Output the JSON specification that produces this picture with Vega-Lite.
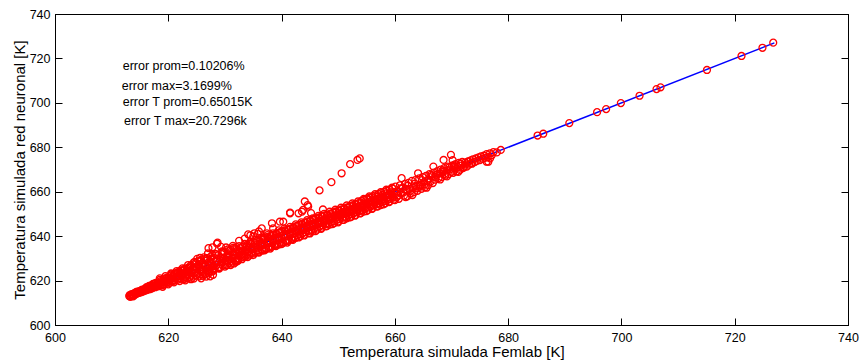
{
  "$schema": "https://vega.github.io/schema/vega-lite/v6.json",
  "width": 793,
  "height": 311,
  "autosize": {"type": "none"},
  "padding": {"left": 55, "top": 14, "right": 14, "bottom": 39},
  "background": "white",
  "config": {
    "view": {"stroke": "black", "strokeWidth": 1},
    "font": "Liberation Sans",
    "axis": {
      "grid": false,
      "domainColor": "black",
      "tickColor": "black",
      "labelColor": "black",
      "titleColor": "black",
      "labelFont": "Liberation Sans",
      "titleFont": "Liberation Sans",
      "labelFontSize": 12.5,
      "titleFontSize": 15,
      "titleFontWeight": "normal",
      "tickSize": -7,
      "domainWidth": 1,
      "tickWidth": 1,
      "labelFlush": false,
      "labelOverlap": false
    }
  },
  "datasets": {
    "diag": [{"x": 613, "y": 613}, {"x": 727, "y": 727}],
    "notes": [
      {"x": 611.95, "y": 716.7, "label": "error prom=0.10206%"},
      {"x": 611.78, "y": 707.6, "label": "error max=3.1699%"},
      {"x": 611.95, "y": 700.2, "label": "error T prom=0.65015K"},
      {"x": 612.18, "y": 691.8, "label": "error T max=20.7296k"}
    ],
    "pts": [
      {"x":613.1,"y":613.0},{"x":613.2,"y":613.5},{"x":613.3,"y":612.7},{"x":613.5,"y":613.9},{"x":613.6,"y":613.2},{"x":613.8,"y":612.9},{"x":614.0,"y":614.3},{"x":614.1,"y":613.6},{"x":614.3,"y":614.8},{"x":614.4,"y":614.0},{"x":614.6,"y":614.4},{"x":614.8,"y":615.1},{"x":614.9,"y":614.5},{"x":615.1,"y":615.4},{"x":615.3,"y":614.8},{"x":615.4,"y":615.9},{"x":615.6,"y":615.2},{"x":615.8,"y":616.1},{"x":615.9,"y":615.5},
      {"x":616.1,"y":616.9},{"x":616.2,"y":615.7},{"x":616.4,"y":616.3},{"x":616.6,"y":617.6},{"x":616.7,"y":616.1},{"x":616.9,"y":617.0},{"x":617.1,"y":618.0},{"x":617.2,"y":616.6},{"x":617.4,"y":617.5},{"x":617.6,"y":618.6},{"x":617.7,"y":617.0},{"x":617.9,"y":618.2},{"x":618.1,"y":619.1},{"x":618.2,"y":617.4},{"x":618.4,"y":618.6},{"x":618.6,"y":619.7},{"x":618.7,"y":618.0},{"x":618.9,"y":619.3},{"x":619.1,"y":620.2},{"x":619.2,"y":618.4},{"x":619.4,"y":619.6},{"x":619.6,"y":620.8},{"x":619.7,"y":619.0},{"x":619.9,"y":620.2},
      {"x":620.1,"y":621.4},{"x":620.2,"y":619.0},{"x":620.4,"y":620.7},{"x":620.5,"y":622.3},{"x":620.7,"y":619.6},{"x":620.8,"y":621.5},{"x":621.0,"y":622.8},{"x":621.1,"y":620.0},{"x":621.3,"y":621.4},{"x":621.5,"y":623.4},{"x":621.6,"y":620.3},{"x":621.8,"y":622.2},{"x":622.0,"y":623.9},{"x":622.1,"y":620.8},{"x":622.3,"y":622.6},{"x":622.4,"y":624.5},{"x":622.6,"y":621.2},{"x":622.8,"y":623.3},{"x":622.9,"y":624.9},{"x":623.0,"y":621.7},
      {"x":623.2,"y":624.0},{"x":623.3,"y":621.0},{"x":623.5,"y":625.8},{"x":623.6,"y":622.7},{"x":623.8,"y":624.6},{"x":624.0,"y":626.9},{"x":624.1,"y":622.3},{"x":624.3,"y":625.2},{"x":624.4,"y":621.8},{"x":624.6,"y":627.3},{"x":624.8,"y":623.6},{"x":624.9,"y":625.9},{"x":625.1,"y":629.8},{"x":625.2,"y":623.0},{"x":625.4,"y":626.4},{"x":625.6,"y":628.6},{"x":625.7,"y":622.9},{"x":625.9,"y":625.0},{"x":626.0,"y":627.8},{"x":626.2,"y":623.5},{"x":626.3,"y":630.5},{"x":626.5,"y":626.2},{"x":626.7,"y":628.9},{"x":626.8,"y":624.4},{"x":627.0,"y":632.2},{"x":627.1,"y":627.4},{"x":627.3,"y":623.9},{"x":627.5,"y":629.8},{"x":627.6,"y":626.0},{"x":627.8,"y":631.5},{"x":627.9,"y":625.0},{"x":626.5,"y":622.8},{"x":626.1,"y":622.1},{"x":625.5,"y":621.9},{"x":627.2,"y":623.2},{"x":626.7,"y":621.8},{"x":627.4,"y":621.9},{"x":627.9,"y":622.6},{"x":625.8,"y":621.0},{"x":625.6,"y":630.2},{"x":624.7,"y":628.4},{"x":627.1,"y":634.6},{"x":627.8,"y":635.0},
      {"x":628.1,"y":630.2},{"x":628.2,"y":625.4},{"x":628.4,"y":628.9},{"x":628.6,"y":636.6},{"x":628.7,"y":637.1},{"x":628.8,"y":631.4},{"x":629.0,"y":626.1},{"x":629.1,"y":629.5},{"x":629.3,"y":635.2},{"x":629.4,"y":631.9},{"x":629.6,"y":626.8},{"x":629.8,"y":630.3},{"x":629.9,"y":632.8},{"x":630.1,"y":627.5},{"x":630.2,"y":634.9},{"x":630.4,"y":630.7},{"x":630.6,"y":633.3},{"x":630.7,"y":627.9},{"x":630.9,"y":631.5},{"x":631.0,"y":633.9},{"x":631.2,"y":628.5},{"x":631.4,"y":635.6},{"x":631.5,"y":631.9},{"x":631.7,"y":634.4},{"x":631.8,"y":628.9},{"x":629.5,"y":628.2},{"x":630.5,"y":629.0},{"x":631.3,"y":630.0},{"x":631.6,"y":627.7},{"x":632.3,"y":628.9},
      {"x":632.0,"y":634.2},{"x":632.2,"y":629.8},{"x":632.4,"y":632.9},{"x":632.5,"y":637.9},{"x":632.7,"y":634.6},{"x":632.9,"y":630.6},{"x":633.0,"y":633.5},{"x":633.2,"y":635.4},{"x":633.4,"y":631.2},{"x":633.5,"y":638.9},{"x":633.7,"y":634.1},{"x":633.9,"y":636.0},{"x":634.0,"y":631.8},{"x":634.2,"y":634.9},{"x":634.4,"y":636.7},{"x":634.5,"y":640.4},{"x":634.7,"y":632.4},{"x":634.9,"y":635.3},{"x":635.0,"y":637.4},{"x":635.2,"y":641.3},{"x":635.4,"y":632.9},{"x":635.5,"y":636.0},{"x":635.7,"y":638.0},{"x":635.9,"y":633.5},{"x":636.0,"y":642.1},{"x":636.2,"y":636.6},{"x":636.4,"y":638.7},{"x":636.5,"y":634.1},{"x":636.7,"y":637.2},{"x":636.9,"y":639.3},{"x":633.1,"y":630.4},{"x":635.8,"y":641.0},{"x":636.5,"y":643.5},{"x":634.1,"y":640.8},{"x":635.0,"y":639.8},
      {"x":637.1,"y":639.0},{"x":637.2,"y":634.5},{"x":637.4,"y":637.3},{"x":637.6,"y":639.6},{"x":637.7,"y":635.0},{"x":637.9,"y":638.0},{"x":638.1,"y":640.1},{"x":638.2,"y":635.4},{"x":638.4,"y":638.6},{"x":638.6,"y":640.5},{"x":638.7,"y":636.0},{"x":638.9,"y":639.2},{"x":639.1,"y":641.0},{"x":639.2,"y":636.4},{"x":639.4,"y":639.6},{"x":639.6,"y":641.5},{"x":639.7,"y":637.0},{"x":639.9,"y":640.0},{"x":640.1,"y":642.0},{"x":640.2,"y":637.3},{"x":640.4,"y":640.5},{"x":640.6,"y":642.5},{"x":640.7,"y":637.8},{"x":640.9,"y":641.0},{"x":641.1,"y":642.9},{"x":641.2,"y":638.3},{"x":641.4,"y":641.4},{"x":641.6,"y":643.4},{"x":641.7,"y":638.8},{"x":641.9,"y":641.9},{"x":638.3,"y":645.8},{"x":638.5,"y":643.5},{"x":640.3,"y":646.5},{"x":641.5,"y":650.3},{"x":637.4,"y":641.3},{"x":639.7,"y":646.5},
      {"x":642.1,"y":644.0},{"x":642.2,"y":639.6},{"x":642.4,"y":642.5},{"x":642.6,"y":644.5},{"x":642.7,"y":640.3},{"x":642.9,"y":643.0},{"x":643.1,"y":645.0},{"x":643.2,"y":640.8},{"x":643.4,"y":643.4},{"x":643.6,"y":645.5},{"x":643.7,"y":641.3},{"x":643.9,"y":643.9},{"x":644.1,"y":646.0},{"x":644.2,"y":641.8},{"x":644.4,"y":644.5},{"x":644.6,"y":646.5},{"x":644.7,"y":642.3},{"x":644.9,"y":645.0},{"x":645.1,"y":647.0},{"x":645.2,"y":642.8},{"x":645.4,"y":645.4},{"x":645.6,"y":647.5},{"x":645.7,"y":643.3},{"x":645.9,"y":645.9},{"x":646.1,"y":648.0},{"x":646.2,"y":643.8},{"x":646.4,"y":646.4},{"x":646.6,"y":648.4},{"x":646.7,"y":644.3},{"x":646.9,"y":646.9},{"x":647.1,"y":649.0},{"x":647.2,"y":644.8},{"x":647.4,"y":647.3},{"x":647.6,"y":649.4},{"x":647.7,"y":645.3},{"x":647.9,"y":647.8},{"x":643.0,"y":650.3},{"x":643.6,"y":651.0},{"x":643.8,"y":651.8},{"x":644.1,"y":655.6},{"x":644.6,"y":654.0},{"x":644.7,"y":653.3},{"x":641.5,"y":650.6},{"x":646.7,"y":660.6},{"x":645.2,"y":650.4},{"x":647.3,"y":652.0},
      {"x":648.1,"y":649.7},{"x":648.2,"y":645.7},{"x":648.4,"y":648.3},{"x":648.6,"y":650.1},{"x":648.7,"y":646.2},{"x":648.9,"y":648.8},{"x":649.1,"y":650.6},{"x":649.2,"y":646.7},{"x":649.4,"y":649.2},{"x":649.6,"y":651.1},{"x":649.7,"y":647.3},{"x":649.9,"y":649.7},{"x":650.1,"y":651.6},{"x":650.2,"y":647.7},{"x":650.4,"y":650.2},{"x":650.6,"y":652.0},{"x":650.7,"y":648.2},{"x":650.9,"y":650.7},{"x":651.1,"y":652.5},{"x":651.2,"y":648.7},{"x":651.4,"y":651.2},{"x":651.6,"y":653.0},{"x":651.7,"y":649.2},{"x":651.9,"y":651.6},{"x":652.1,"y":653.5},{"x":652.2,"y":649.8},{"x":652.4,"y":652.1},{"x":652.6,"y":654.0},{"x":652.7,"y":650.3},{"x":652.9,"y":652.6},{"x":653.1,"y":654.4},{"x":653.2,"y":650.8},{"x":653.4,"y":653.1},{"x":653.6,"y":654.9},{"x":653.7,"y":651.3},{"x":653.9,"y":653.5},{"x":648.8,"y":664.3},{"x":650.6,"y":668.3},{"x":652.1,"y":672.4},{"x":653.4,"y":674.3},{"x":653.8,"y":675.0},
      {"x":654.1,"y":655.9},{"x":654.2,"y":651.8},{"x":654.4,"y":654.3},{"x":654.6,"y":656.4},{"x":654.7,"y":652.3},{"x":654.9,"y":654.8},{"x":655.1,"y":656.9},{"x":655.2,"y":652.8},{"x":655.4,"y":655.3},{"x":655.6,"y":657.4},{"x":655.7,"y":653.3},{"x":655.9,"y":655.8},{"x":656.1,"y":657.9},{"x":656.2,"y":653.8},{"x":656.4,"y":656.3},{"x":656.6,"y":658.4},{"x":656.7,"y":654.3},{"x":656.9,"y":656.8},{"x":657.1,"y":658.9},{"x":657.2,"y":654.8},{"x":657.4,"y":657.3},{"x":657.6,"y":659.4},{"x":657.7,"y":655.3},{"x":657.9,"y":657.8},{"x":658.1,"y":659.9},{"x":658.2,"y":655.8},{"x":658.4,"y":658.3},{"x":658.6,"y":660.4},{"x":658.7,"y":656.3},{"x":658.9,"y":658.8},{"x":659.1,"y":660.9},{"x":659.2,"y":656.8},{"x":659.4,"y":659.3},{"x":659.6,"y":661.4},{"x":659.7,"y":657.3},{"x":659.9,"y":659.8},
      {"x":660.1,"y":662.3},{"x":660.3,"y":657.5},{"x":660.5,"y":660.2},{"x":660.7,"y":656.8},{"x":660.9,"y":662.9},{"x":661.1,"y":659.4},{"x":661.2,"y":666.1},{"x":661.4,"y":661.7},{"x":661.6,"y":658.2},{"x":661.8,"y":663.5},{"x":662.0,"y":660.6},{"x":662.2,"y":657.9},{"x":662.4,"y":664.0},{"x":662.6,"y":661.3},{"x":662.8,"y":659.2},{"x":663.0,"y":664.9},{"x":663.2,"y":661.8},{"x":663.4,"y":659.8},{"x":663.6,"y":665.2},{"x":663.8,"y":662.6},{"x":664.0,"y":660.4},{"x":664.1,"y":668.3},{"x":664.3,"y":666.0},{"x":664.5,"y":663.1},{"x":664.7,"y":661.3},{"x":664.9,"y":666.6},{"x":665.1,"y":664.2},{"x":665.3,"y":662.0},{"x":665.5,"y":667.1},{"x":665.7,"y":664.8},{"x":665.9,"y":663.0},
      {"x":666.1,"y":667.9},{"x":666.3,"y":664.6},{"x":666.5,"y":666.9},{"x":666.8,"y":671.3},{"x":666.9,"y":668.6},{"x":667.1,"y":665.4},{"x":667.3,"y":667.6},{"x":667.5,"y":669.3},{"x":667.7,"y":666.1},{"x":667.9,"y":668.2},{"x":668.1,"y":670.0},{"x":668.3,"y":666.6},{"x":668.6,"y":674.3},{"x":668.5,"y":668.9},{"x":668.7,"y":670.6},{"x":668.9,"y":667.2},{"x":669.1,"y":669.5},{"x":669.3,"y":671.3},{"x":669.5,"y":667.9},{"x":669.7,"y":670.0},{"x":669.9,"y":676.6},{"x":670.2,"y":674.2},{"x":670.1,"y":671.8},{"x":670.3,"y":668.5},{"x":670.5,"y":670.6},{"x":670.7,"y":672.4},{"x":670.9,"y":669.1},{"x":671.1,"y":671.2},{"x":671.3,"y":673.0},{"x":671.5,"y":669.8},{"x":671.7,"y":671.8},{"x":671.9,"y":673.4},
      {"x":672.2,"y":671.0},{"x":672.4,"y":673.1},{"x":672.7,"y":671.3},{"x":672.9,"y":673.6},{"x":673.1,"y":672.2},{"x":673.4,"y":674.1},{"x":673.6,"y":672.6},{"x":673.8,"y":674.6},{"x":674.1,"y":673.3},{"x":674.3,"y":675.0},{"x":674.5,"y":673.9},{"x":674.8,"y":675.5},{"x":675.0,"y":674.2},{"x":675.2,"y":675.9},{"x":675.5,"y":674.8},{"x":675.7,"y":676.2},{"x":675.9,"y":675.2},{"x":676.2,"y":676.9},{"x":676.2,"y":673.5},{"x":676.5,"y":673.5},{"x":676.4,"y":675.6},{"x":676.8,"y":675.0},{"x":676.8,"y":677.3},{"x":677.1,"y":676.4},{"x":677.4,"y":677.8},{"x":678.0,"y":677.7},{"x":678.7,"y":678.8},
      {"x":685.2,"y":685.3},{"x":686.2,"y":686.1},{"x":690.8,"y":690.9},{"x":695.7,"y":695.8},{"x":697.3,"y":697.2},{"x":699.9,"y":699.9},{"x":703.2,"y":703.2},{"x":706.2,"y":706.2},{"x":706.9,"y":707.0},{"x":715.1,"y":714.8},{"x":721.2,"y":721.1},{"x":724.9,"y":724.8},{"x":726.8,"y":727.1},
      {"x":613.4,"y":613.1},{"x":613.7,"y":613.6},{"x":613.9,"y":613.4},{"x":614.2,"y":614.0},{"x":614.5,"y":615.0},{"x":614.7,"y":614.6},{"x":615.0,"y":614.9},{"x":615.2,"y":615.6},{"x":615.5,"y":615.3},{"x":615.7,"y":615.6},{"x":616.0,"y":616.3},{"x":616.3,"y":617.1},{"x":616.5,"y":616.1},{"x":616.8,"y":616.6},
      {"x":617.0,"y":616.4},{"x":617.3,"y":618.5},{"x":617.5,"y":617.1},{"x":617.8,"y":619.0},{"x":618.0,"y":617.6},{"x":618.3,"y":618.2},{"x":618.5,"y":620.3},{"x":618.8,"y":618.6},{"x":619.0,"y":617.9},{"x":619.3,"y":620.9},{"x":619.5,"y":619.2},{"x":619.8,"y":621.4},{"x":620.0,"y":619.4},{"x":620.3,"y":620.0},{"x":620.6,"y":622.8},{"x":620.9,"y":620.3},{"x":621.2,"y":623.3},{"x":621.4,"y":621.0},{"x":621.7,"y":623.8},{"x":621.9,"y":621.1},{"x":622.2,"y":624.6},{"x":622.5,"y":622.0},{"x":622.7,"y":620.6},{"x":622.9,"y":625.4},
      {"x":623.1,"y":622.8},{"x":623.4,"y":625.3},{"x":623.7,"y":621.2},{"x":623.9,"y":626.1},{"x":624.2,"y":623.9},{"x":624.5,"y":620.9},{"x":624.7,"y":626.0},{"x":624.9,"y":628.0},{"x":625.0,"y":622.2},{"x":625.3,"y":627.1},{"x":625.5,"y":624.6},{"x":625.8,"y":629.2},{"x":626.0,"y":624.3},{"x":626.3,"y":627.4},{"x":626.6,"y":623.2},{"x":626.9,"y":630.1},{"x":627.2,"y":625.3},{"x":627.4,"y":628.6},{"x":627.7,"y":624.2},{"x":627.9,"y":629.5},{"x":628.0,"y":626.6},{"x":628.3,"y":632.0},{"x":628.5,"y":627.0},{"x":628.9,"y":625.6},{"x":629.2,"y":630.4},{"x":629.4,"y":627.5},{"x":629.7,"y":633.0},{"x":630.0,"y":629.0},{"x":630.3,"y":626.9},{"x":630.6,"y":631.8},{"x":630.8,"y":629.6},{"x":631.1,"y":627.6},{"x":631.4,"y":632.7},{"x":631.6,"y":630.3},{"x":631.9,"y":633.2},{"x":632.1,"y":629.1},
      {"x":632.4,"y":630.0},{"x":632.6,"y":633.3},{"x":632.8,"y":631.4},{"x":633.1,"y":635.1},{"x":633.3,"y":632.0},{"x":633.6,"y":630.8},{"x":633.8,"y":635.3},{"x":634.1,"y":633.0},{"x":634.3,"y":631.3},{"x":634.6,"y":636.4},{"x":634.8,"y":634.0},{"x":635.1,"y":632.2},{"x":635.3,"y":636.9},{"x":635.6,"y":634.7},{"x":635.8,"y":632.8},{"x":636.1,"y":637.8},{"x":636.3,"y":635.4},{"x":636.6,"y":633.5},{"x":636.8,"y":638.6},{"x":637.0,"y":636.3},{"x":637.3,"y":634.2},{"x":637.5,"y":639.7},{"x":637.8,"y":636.9},{"x":638.0,"y":634.9},{"x":638.3,"y":640.4},{"x":638.5,"y":637.6},{"x":638.8,"y":635.6},{"x":639.0,"y":641.1},{"x":639.3,"y":638.4},{"x":639.5,"y":636.2},{"x":639.8,"y":641.9},{"x":640.0,"y":639.2},{"x":640.3,"y":637.0},{"x":640.5,"y":642.6},{"x":640.8,"y":639.9},{"x":641.0,"y":637.7},{"x":641.3,"y":643.1},{"x":641.5,"y":640.6},{"x":641.8,"y":638.5},{"x":642.0,"y":643.6},{"x":642.3,"y":641.2},{"x":642.5,"y":639.2},{"x":642.8,"y":644.7},{"x":643.0,"y":642.1},{"x":643.3,"y":639.9},{"x":643.5,"y":645.3},{"x":643.8,"y":642.7},{"x":644.0,"y":640.6},{"x":644.3,"y":646.1},{"x":644.5,"y":643.5},{"x":644.8,"y":641.4},{"x":645.0,"y":646.8},{"x":645.3,"y":644.3},{"x":645.5,"y":642.2},{"x":645.8,"y":647.6},{"x":646.0,"y":645.0},{"x":646.3,"y":642.9},{"x":646.5,"y":648.1},{"x":646.8,"y":645.8},{"x":647.0,"y":643.7},{"x":647.3,"y":648.9},{"x":647.5,"y":646.5},{"x":647.8,"y":644.4},{"x":648.0,"y":649.3},{"x":648.3,"y":647.3},{"x":648.5,"y":645.2},{"x":648.8,"y":650.0},{"x":649.0,"y":647.9},{"x":649.3,"y":645.9},{"x":649.5,"y":650.8},{"x":649.8,"y":648.6},{"x":650.0,"y":646.6},{"x":650.3,"y":651.4},{"x":650.5,"y":649.4},{"x":650.8,"y":647.3},{"x":651.0,"y":652.2},{"x":651.3,"y":650.1},{"x":651.5,"y":648.0},{"x":651.8,"y":652.9},{"x":652.0,"y":650.8},{"x":652.3,"y":648.7},{"x":652.5,"y":653.5},{"x":652.8,"y":651.5},{"x":653.0,"y":649.4},{"x":653.3,"y":654.2},{"x":653.5,"y":652.2},{"x":653.8,"y":650.2},{"x":654.0,"y":654.9},{"x":654.3,"y":653.0},{"x":654.5,"y":651.0},{"x":654.8,"y":655.7},{"x":655.0,"y":653.7},{"x":655.3,"y":651.8},{"x":655.5,"y":656.4},{"x":655.8,"y":654.5},{"x":656.0,"y":652.5},{"x":656.3,"y":657.1},{"x":656.5,"y":655.2},{"x":656.8,"y":653.3},{"x":657.0,"y":657.8},{"x":657.3,"y":656.0},{"x":657.5,"y":654.0},{"x":657.8,"y":658.6},{"x":658.0,"y":656.8},{"x":658.3,"y":654.8},{"x":658.5,"y":659.3},{"x":658.8,"y":657.5},{"x":659.0,"y":655.6},{"x":659.3,"y":660.1},{"x":659.5,"y":658.3},{"x":659.8,"y":656.4},
      {"x":660.2,"y":659.0},{"x":660.6,"y":658.3},{"x":661.0,"y":661.5},{"x":661.5,"y":659.6},{"x":661.9,"y":657.6},{"x":662.3,"y":662.7},{"x":662.7,"y":660.3},{"x":663.1,"y":658.5},{"x":663.5,"y":663.6},{"x":663.9,"y":661.5},{"x":664.4,"y":662.4},{"x":664.8,"y":665.2},{"x":665.2,"y":663.2},{"x":665.6,"y":661.8},{"x":666.0,"y":665.5},{"x":666.4,"y":667.6},{"x":666.7,"y":663.9},{"x":667.2,"y":666.6},{"x":667.6,"y":668.0},{"x":668.0,"y":665.5},{"x":668.4,"y":669.5},{"x":668.8,"y":668.0},{"x":669.2,"y":666.9},{"x":669.6,"y":671.0},{"x":670.0,"y":668.9},{"x":670.4,"y":672.0},{"x":670.8,"y":670.4},{"x":671.2,"y":668.9},{"x":671.6,"y":672.6},{"x":672.0,"y":670.6},{"x":672.5,"y":672.3},{"x":673.0,"y":673.7},{"x":673.5,"y":672.9},
      {"x":618.5,"y":621.0},{"x":619.5,"y":622.0},{"x":620.5,"y":623.2},{"x":621.5,"y":624.3},{"x":622.5,"y":625.5},{"x":623.5,"y":627.0},{"x":624.5,"y":628.2},{"x":625.5,"y":629.0},{"x":626.5,"y":629.8},{"x":627.5,"y":630.8},{"x":628.5,"y":631.8},{"x":629.5,"y":633.2},{"x":630.5,"y":634.0},{"x":631.5,"y":634.8},{"x":632.5,"y":635.5},{"x":633.5,"y":636.5},{"x":634.5,"y":637.5},{"x":635.5,"y":638.3},{"x":636.5,"y":639.5},{"x":637.5,"y":640.5},{"x":638.5,"y":641.3},{"x":639.5,"y":642.6},{"x":640.5,"y":643.4},{"x":641.5,"y":644.2},{"x":642.5,"y":645.3},{"x":643.5,"y":646.2},{"x":644.5,"y":647.2},{"x":645.5,"y":648.0},{"x":646.5,"y":649.1},{"x":647.5,"y":650.0},{"x":648.5,"y":651.0},{"x":649.5,"y":651.9},{"x":650.5,"y":652.8},{"x":651.5,"y":653.8},{"x":652.5,"y":654.7},{"x":653.5,"y":655.6},{"x":654.5,"y":656.8},{"x":655.5,"y":657.9},{"x":656.5,"y":658.9},{"x":657.5,"y":659.8},{"x":658.5,"y":660.9},{"x":659.5,"y":661.8},
      {"x":619.0,"y":617.2},{"x":620.0,"y":618.3},{"x":621.0,"y":619.2},{"x":622.0,"y":619.8},{"x":623.0,"y":620.1},{"x":624.0,"y":620.6},{"x":628.0,"y":624.4},{"x":629.0,"y":625.4},{"x":630.0,"y":626.3},{"x":631.0,"y":627.0},{"x":632.0,"y":628.4},{"x":633.0,"y":629.6},{"x":634.0,"y":630.6},{"x":635.0,"y":631.5},{"x":636.0,"y":632.6},{"x":637.0,"y":633.6},{"x":638.0,"y":634.4},{"x":639.0,"y":635.5},{"x":640.0,"y":636.4},{"x":641.0,"y":637.1},{"x":642.0,"y":638.3},{"x":643.0,"y":639.4},{"x":644.0,"y":640.3},{"x":645.0,"y":641.2},{"x":646.0,"y":642.3},{"x":647.0,"y":643.3},{"x":648.0,"y":644.5},{"x":649.0,"y":645.4},{"x":650.0,"y":646.2},{"x":651.0,"y":647.3},{"x":652.0,"y":648.4},{"x":653.0,"y":649.3},{"x":654.0,"y":650.4},{"x":655.0,"y":651.3},{"x":656.0,"y":652.3},{"x":657.0,"y":653.4},{"x":658.0,"y":654.3},{"x":659.0,"y":655.3},{"x":660.0,"y":656.2},
      {"x":618.6,"y":619.0},{"x":619.6,"y":619.9},{"x":620.6,"y":621.0},{"x":621.6,"y":622.1},{"x":622.6,"y":623.0},{"x":623.6,"y":623.9},{"x":624.6,"y":624.8},{"x":625.6,"y":625.9},{"x":626.6,"y":626.9},{"x":627.6,"y":627.7},{"x":628.6,"y":628.7},{"x":629.6,"y":629.6},{"x":630.6,"y":630.5},{"x":631.6,"y":631.4},{"x":632.6,"y":632.3},{"x":633.6,"y":633.2},{"x":634.6,"y":634.3},{"x":635.6,"y":635.2},{"x":636.6,"y":636.2},{"x":637.6,"y":637.1},{"x":638.6,"y":638.0},{"x":639.6,"y":639.1},{"x":640.6,"y":640.0},{"x":641.6,"y":640.9},{"x":642.6,"y":641.9},{"x":643.6,"y":642.8},{"x":644.6,"y":643.8},{"x":645.6,"y":644.7},{"x":646.6,"y":645.7},{"x":647.6,"y":646.6},{"x":648.6,"y":647.6},{"x":649.6,"y":648.5},{"x":650.6,"y":649.5},{"x":651.6,"y":650.4},{"x":652.6,"y":651.4},{"x":653.6,"y":652.3},{"x":654.6,"y":653.3},{"x":655.6,"y":654.2},{"x":656.6,"y":655.2},{"x":657.6,"y":656.1},{"x":658.6,"y":657.1},{"x":659.6,"y":658.0}
    ]
  },
  "layer": [
    {
      "data": {"name": "diag"},
      "mark": {"type": "line", "color": "#0000ff", "strokeWidth": 1.5},
      "encoding": {
        "x": {"field": "x", "type": "quantitative", "scale": {"domain": [600, 740], "nice": false, "zero": false},
              "axis": {"orient": "bottom", "values": [600, 620, 640, 660, 680, 700, 720, 740], "title": "Temperatura simulada Femlab [K]", "labelPadding": 13, "titlePadding": 1}},
        "y": {"field": "y", "type": "quantitative", "scale": {"domain": [600, 740], "nice": false, "zero": false},
              "axis": {"orient": "left", "values": [600, 620, 640, 660, 680, 700, 720, 740], "title": "Temperatura simulada red neuronal [K]", "labelPadding": 12, "titlePadding": 2}}
      }
    },
    {
      "data": {"name": "pts"},
      "mark": {"type": "point", "shape": "circle", "filled": false, "color": "#ff0000", "size": 48, "strokeWidth": 1.3, "opacity": 1},
      "encoding": {
        "x": {"field": "x", "type": "quantitative", "axis": null},
        "y": {"field": "y", "type": "quantitative", "axis": null}
      }
    },
    {
      "data": {"name": "notes"},
      "mark": {"type": "text", "align": "left", "baseline": "middle", "fontSize": 12.5, "font": "Liberation Sans", "color": "black"},
      "encoding": {
        "x": {"field": "x", "type": "quantitative",
              "axis": {"orient": "top", "values": [600, 620, 640, 660, 680, 700, 720, 740], "labels": false, "title": null}},
        "y": {"field": "y", "type": "quantitative",
              "axis": {"orient": "right", "values": [600, 620, 640, 660, 680, 700, 720, 740], "labels": false, "title": null}},
        "text": {"field": "label"}
      }
    }
  ],
  "resolve": {"axis": {"x": "independent", "y": "independent"}}
}
